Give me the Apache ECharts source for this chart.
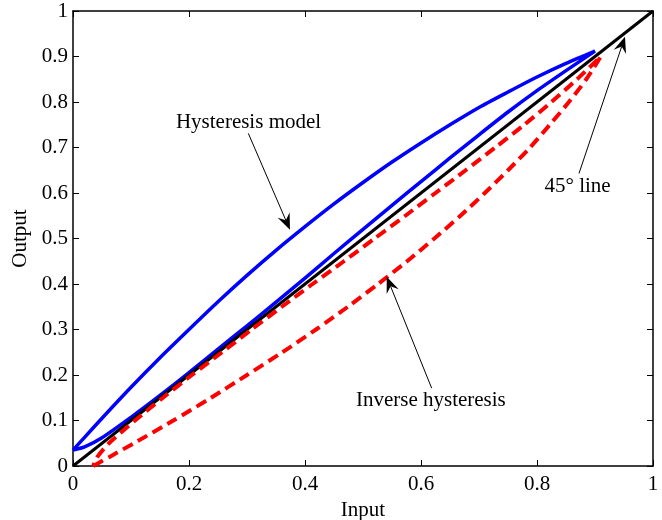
<!DOCTYPE html>
<html>
<head>
<meta charset="utf-8">
<script src="https://cdn.jsdelivr.net/npm/echarts@6/dist/echarts.min.js"></script>
<style>
  html, body { margin: 0; padding: 0; background: #fff; }
  #chart { width: 662px; height: 520px; }
</style>
</head>
<body>
<div id="chart"></div>
<script>
// Input levels at which the hysteresis loop branches are sampled
const inputGrid = [0, 0.02, 0.05, 0.1, 0.15, 0.2, 0.25, 0.3, 0.35, 0.4, 0.45, 0.5, 0.55, 0.6, 0.65, 0.7, 0.75, 0.8, 0.85, 0.9];
// Hysteresis model: ascending (upper) and descending (lower) branch outputs
const hystUpper = [0.035, 0.063, 0.105, 0.173, 0.238, 0.300, 0.361, 0.419, 0.474, 0.526, 0.576, 0.623, 0.668, 0.710, 0.750, 0.788, 0.822, 0.855, 0.885, 0.912];
const hystLower = [0.035, 0.042, 0.062, 0.107, 0.155, 0.205, 0.257, 0.308, 0.360, 0.413, 0.467, 0.520, 0.573, 0.625, 0.677, 0.728, 0.778, 0.825, 0.869, 0.912];

// Inverse hysteresis: output levels and the input of each branch at those levels
const invOutputGrid = [0, 0.02, 0.05, 0.1, 0.15, 0.2, 0.25, 0.3, 0.35, 0.4, 0.45, 0.5, 0.55, 0.6, 0.65, 0.7, 0.75, 0.8, 0.85, 0.9];
const invFarInput  = [0.035, 0.063, 0.105, 0.173, 0.238, 0.300, 0.361, 0.419, 0.474, 0.526, 0.576, 0.623, 0.668, 0.710, 0.750, 0.788, 0.822, 0.855, 0.885, 0.910];
const invNearInput = [0.035, 0.042, 0.062, 0.107, 0.155, 0.205, 0.257, 0.308, 0.360, 0.413, 0.467, 0.520, 0.573, 0.625, 0.677, 0.728, 0.778, 0.825, 0.869, 0.910];

// 45 degree reference line
const diagInput = [0, 1];
const diagOutput = [0, 1];

// Axis ranges and tick steps
const xRange = [0, 1], xStep = 0.2;
const yRange = [0, 1], yStep = 0.1;

const FONT = 'Liberation Serif';
const FS = 21;

// closed loop: go out along one branch, return along the other
function loop(xa, ya, xb, yb) {
  const pts = [];
  for (let i = 0; i < xa.length; i++) pts.push([xa[i], ya[i]]);
  for (let i = xb.length - 1; i >= 0; i--) pts.push([xb[i], yb[i]]);
  return pts;
}

const hystData = loop(inputGrid, hystUpper, inputGrid, hystLower);
const invData = loop(invFarInput, invOutputGrid, invNearInput, invOutputGrid);
const diagData = diagInput.map((x, i) => [x, diagOutput[i]]);

const chart = echarts.init(document.getElementById('chart'), null, { renderer: 'canvas' });

const axisCommon = {
  type: 'value',
  axisLine: { show: true, onZero: false, lineStyle: { color: '#000', width: 1.5 } },
  axisTick: { show: true, inside: true, length: 6, lineStyle: { color: '#000', width: 1 } },
  splitLine: { show: false }
};

const labelStyle = { color: '#000', fontFamily: FONT, fontSize: FS };

const option = {
  animation: false,
  backgroundColor: '#fff',
  grid: { left: 73, top: 11, right: 9, bottom: 54, containLabel: false, outerBoundsMode: 'none' },
  xAxis: [
    Object.assign({}, axisCommon, {
      position: 'bottom', min: xRange[0], max: xRange[1], interval: xStep,
      axisLabel: Object.assign({ margin: 8 }, labelStyle),
      name: 'Input', nameLocation: 'middle', nameGap: 23,
      nameTextStyle: labelStyle
    }),
    Object.assign({}, axisCommon, {
      position: 'top', min: xRange[0], max: xRange[1], interval: xStep,
      axisLabel: { show: false }
    })
  ],
  yAxis: [
    Object.assign({}, axisCommon, {
      position: 'left', min: yRange[0], max: yRange[1], interval: yStep,
      axisLabel: Object.assign({ margin: 5 }, labelStyle),
      name: 'Output', nameLocation: 'middle', nameGap: 39, nameRotate: 90,
      nameTextStyle: labelStyle
    }),
    Object.assign({}, axisCommon, {
      position: 'right', min: yRange[0], max: yRange[1], interval: yStep,
      axisLabel: { show: false }
    })
  ],
  series: [
    {
      name: 'Hysteresis model', type: 'line', data: hystData,
      showSymbol: false, symbol: 'none', smooth: 0.25,
      lineStyle: { color: '#0000ff', width: 3.5, join: 'miter' },
      z: 2
    },
    {
      name: '45° line', type: 'line', data: diagData,
      showSymbol: false, symbol: 'none',
      lineStyle: { color: '#000', width: 3 },
      z: 3
    },
    {
      name: 'Inverse hysteresis', type: 'line', data: invData,
      showSymbol: false, symbol: 'none', smooth: 0.25,
      lineStyle: { color: '#ff0000', width: 4, type: [11, 6], join: 'miter' },
      z: 4
    }
  ]
};

chart.setOption(option);

// Annotation text with arrows, placed in data coordinates
const notes = [
  { text: 'Hysteresis model',   at: [0.3026, 0.755], from: [0.3023, 0.731], to: [0.3741, 0.519] },
  { text: 'Inverse hysteresis', at: [0.617, 0.144],  from: [0.6184, 0.171], to: [0.5409, 0.416] },
  { text: '45° line',           at: [0.870, 0.614],  from: [0.8724, 0.643], to: [0.9517, 0.9435] }
];

function px(p) { return chart.convertToPixel({ xAxisIndex: 0, yAxisIndex: 0 }, p); }

const graphics = [];
notes.forEach(n => {
  const a = px(n.from), b = px(n.to), t = px(n.at);
  const dx = b[0] - a[0], dy = b[1] - a[1];
  const len = Math.hypot(dx, dy);
  const ux = dx / len, uy = dy / len;
  const nx = -uy, ny = ux;
  const L = 16, W = 6.5, notch = 0.65;
  graphics.push({
    type: 'line', z: 10,
    shape: { x1: a[0], y1: a[1], x2: b[0] - ux * L * notch, y2: b[1] - uy * L * notch },
    style: { stroke: '#000', lineWidth: 1 }
  });
  graphics.push({
    type: 'polygon', z: 10,
    shape: { points: [
      [b[0], b[1]],
      [b[0] - ux * L + nx * W, b[1] - uy * L + ny * W],
      [b[0] - ux * L * notch, b[1] - uy * L * notch],
      [b[0] - ux * L - nx * W, b[1] - uy * L - ny * W]
    ] },
    style: { fill: '#000' }
  });
  graphics.push({
    type: 'text', z: 10, x: t[0], y: t[1],
    style: { text: n.text, font: FS + 'px "' + FONT + '"', fill: '#000', align: 'center', verticalAlign: 'middle' }
  });
});

chart.setOption({ graphic: graphics });
</script>
</body>
</html>
